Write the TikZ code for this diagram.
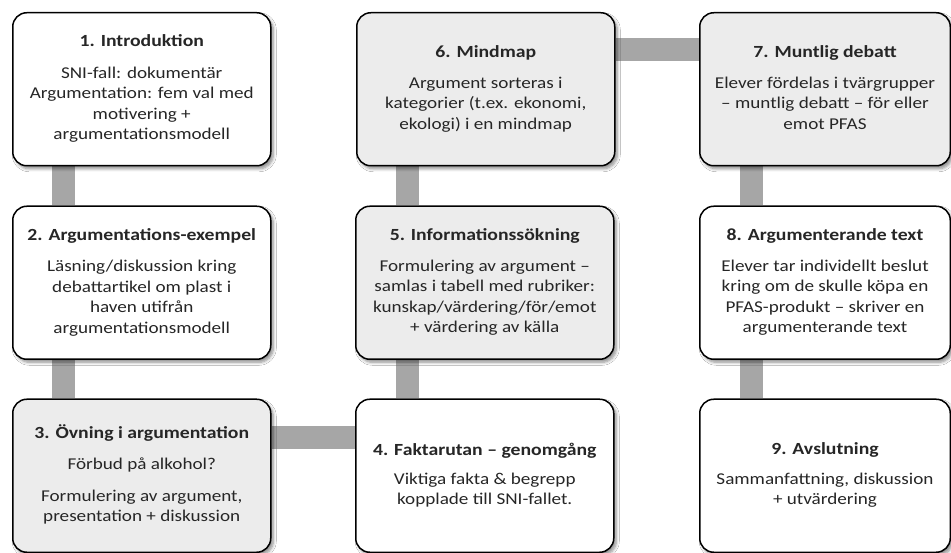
\documentclass[tikz,border=0pt]{standalone}
\usepackage{fontspec}
\usepackage{graphicx}
\setmainfont{Carlito}
\usetikzlibrary{shadows.blur,backgrounds}
\definecolor{barcol}{RGB}{166,166,166}
\definecolor{boxgray}{RGB}{236,236,236}
\newcommand{\boxtxt}[3][10pt]{\scalebox{1.16}[1]{\fontsize{16.5}{20.5}\selectfont
  \begin{tabular}{@{}c@{}}{\fontsize{17}{20}\selectfont\bfseries #2}\\[#1]#3\end{tabular}}}
\begin{document}
\begin{tikzpicture}[x=1pt,y=-1pt,
  stepbox/.style={draw=black, line width=1.5pt, rounded corners=14pt,
    minimum height=153pt, inner sep=0pt, align=center, anchor=north west,
    text=black!85,
    blur shadow={shadow xshift=2.5pt, shadow yshift=-3pt, shadow blur radius=3pt,
      shadow blur steps=6, shadow opacity=45}},
  wbox/.style={stepbox, fill=white},
  gbox/.style={stepbox, fill=boxgray},
  narrow/.style={minimum width=250.5pt},
  wide/.style={minimum width=258pt},
  bar/.style={draw=barcol, line width=23pt}
]
\useasboundingbox (0,0) rectangle (951,553);

\node[wbox, wide] (b1) at (12,12) {\boxtxt[11pt]{1. Introduktion}{SNI-fall: dokumentär\\Argumentation: fem val med\\motivering +\\argumentationsmodell}};
\node[wbox, wide] (b2) at (12,205.5) {\boxtxt[11pt]{2. Argumentations-exempel}{Läsning/diskussion kring\\debattartikel om plast i\\haven utifrån\\argumentationsmodell}};
\node[gbox, wide] (b3) at (12,398.5) {\boxtxt[11pt]{3. Övning i argumentation}{Förbud på alkohol?\\[11pt]Formulering av argument,\\presentation + diskussion}};
\node[wbox, wide] (b4) at (355,398.5) {\boxtxt[8.5pt]{4. Faktarutan – genomgång}{Viktiga fakta \& begrepp\\kopplade till SNI-fallet.}};
\node[gbox, wide] (b5) at (355,205.5) {\boxtxt{5. Informationssökning}{Formulering av argument –\\samlas i tabell med rubriker:\\kunskap/värdering/för/emot\\+ värdering av källa}};
\node[gbox, wide] (b6) at (356,12) {\boxtxt{6. Mindmap}{Argument sorteras i\\kategorier (t.ex. ekonomi,\\ekologi) i en mindmap}};
\node[gbox, narrow] (b7) at (699,12) {\boxtxt{7. Muntlig debatt}{Elever fördelas i tvärgrupper\\– muntlig debatt – för eller\\emot PFAS}};
\node[wbox, narrow] (b8) at (699,205.5) {\boxtxt{8. Argumenterande text}{Elever tar individellt beslut\\kring om de skulle köpa en\\PFAS-produkt – skriver en\\argumenterande text}};
\node[wbox, narrow] (b9) at (699,398.5) {\boxtxt[9pt]{9. Avslutning}{Sammanfattning, diskussion\\+ utvärdering}};

\begin{scope}[on background layer]
\fill[white] (0,0) rectangle (951,553);
\draw[bar] ([xshift=51.5pt]b1.south west) -- ([xshift=51.5pt]b2.north west);
\draw[bar] ([xshift=51.5pt]b2.south west) -- ([xshift=51.5pt]b3.north west);
\draw[bar] ([yshift=-38.5pt]b3.north east) -- ([yshift=-38.5pt]b4.north west);
\draw[bar] ([xshift=52pt]b4.north west) -- ([xshift=52pt]b5.south west);
\draw[bar] ([xshift=52pt]b5.north west) -- ([xshift=51pt]b6.south west);
\draw[bar] ([yshift=-38pt]b6.north east) -- ([yshift=-38pt]b7.north west);
\draw[bar] ([xshift=52.5pt]b7.south west) -- ([xshift=52.5pt]b8.north west);
\draw[bar] ([xshift=52.5pt]b8.south west) -- ([xshift=52.5pt]b9.north west);
\end{scope}
\end{tikzpicture}
\end{document}
